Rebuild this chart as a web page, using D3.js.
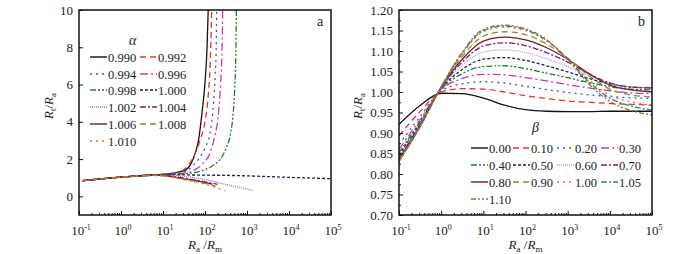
<!DOCTYPE html>
<html lang="en">
<head>
<meta charset="utf-8"/>
<script src="https://d3js.org/d3.v7.min.js"></script>
<style>
  body { margin: 0; background: #fff; }
  text { font-family: "Liberation Serif", "Times New Roman", serif; fill: #222; }
</style>
</head>
<body>
<div id="chart"></div>
<script>
// ---- data: panel a, R_t/R_a vs R_a/R_m for several alpha ----
var alphaLabels = ["0.990", "0.992", "0.994", "0.996", "0.998", "1.000", "1.002", "1.004", "1.006", "1.008", "1.010"];
var a0990 = [[0.12,0.84],[1,1.03],[7,1.16],[20,1.27],[35,1.42],[45,1.7],[58,2.3],[70,3.0],[85,4.5],[100,6.1],[112,8],[120,10.2]];
var a0992 = [[0.12,0.84],[1,1.03],[7,1.16],[20,1.25],[32,1.45],[50,2.0],[76,3.0],[100,4.0],[120,5.5],[135,7.5],[145,10.2]];
var a0994 = [[0.12,0.84],[1,1.03],[7,1.16],[25,1.25],[44,1.5],[70,2.0],[100,2.6],[132,3.4],[160,5],[175,6.5],[185,8],[190,10.2]];
var a0996 = [[0.12,0.84],[1,1.03],[7,1.16],[30,1.25],[60,1.45],[90,1.77],[130,2.3],[170,3.2],[210,4.5],[235,6],[255,8],[265,10.2]];
var a0998 = [[0.12,0.84],[1,1.03],[7,1.15],[25,1.2],[45,1.25],[90,1.4],[155,1.66],[250,2.1],[320,2.6],[400,3.3],[470,4.5],[515,6],[545,8],[560,10.2]];
var a1000 = [[0.12,0.84],[1,1.03],[7,1.15],[30,1.15],[100,1.14],[1000,1.1],[10000,1.02],[100000,0.95]];
var a1002 = [[0.12,0.84],[1,1.03],[7,1.15],[30,1.08],[100,0.9],[300,0.65],[1400,0.32]];
var a1004 = [[0.12,0.84],[1,1.03],[7,1.15],[20,1.05],[50,0.9],[100,0.78],[200,0.65]];
var a1006 = [[0.12,0.84],[1,1.03],[7,1.14],[20,1.02],[50,0.87],[100,0.74],[150,0.66]];
var a1008 = [[0.12,0.84],[1,1.03],[7,1.13],[20,1.0],[50,0.84],[100,0.7],[180,0.55]];
var a1010 = [[0.12,0.84],[1,1.03],[7,1.12],[20,0.98],[50,0.8],[100,0.65],[300,0.3]];
var alphaSeries = [a0990, a0992, a0994, a0996, a0998, a1000, a1002, a1004, a1006, a1008, a1010];

// ---- data: panel b, R_t/R_a vs R_a/R_m for several beta ----
var betaLabels = ["0.00", "0.10", "0.20", "0.30", "0.40", "0.50", "0.60", "0.70", "0.80", "0.90", "1.00", "1.05", "1.10"];
var betaX = [0.1, 0.316, 1, 3.16, 10, 31.6, 100, 316, 1000, 3162, 10000, 31623, 100000];
var b000 = [0.921, 0.967, 0.997, 0.996, 0.985, 0.968, 0.957, 0.953, 0.952, 0.952, 0.953, 0.953, 0.953];
var b010 = [0.893, 0.952, 1.000, 1.008, 1.007, 1.000, 0.991, 0.984, 0.978, 0.975, 0.972, 0.970, 0.968];
var b020 = [0.872, 0.940, 1.003, 1.020, 1.025, 1.022, 1.014, 1.006, 0.999, 0.993, 0.989, 0.986, 0.984];
var b030 = [0.860, 0.933, 1.005, 1.033, 1.043, 1.042, 1.035, 1.027, 1.018, 1.010, 1.003, 0.998, 0.996];
var b040 = [0.852, 0.928, 1.007, 1.045, 1.062, 1.064, 1.057, 1.046, 1.035, 1.023, 1.013, 1.007, 1.005];
var b050 = [0.846, 0.924, 1.008, 1.055, 1.080, 1.084, 1.077, 1.064, 1.049, 1.033, 1.020, 1.012, 1.010];
var b060 = [0.842, 0.922, 1.009, 1.065, 1.097, 1.103, 1.096, 1.081, 1.062, 1.040, 1.022, 1.013, 1.011];
var b070 = [0.839, 0.920, 1.010, 1.073, 1.112, 1.120, 1.113, 1.096, 1.073, 1.045, 1.022, 1.012, 1.010];
var b080 = [0.836, 0.918, 1.011, 1.080, 1.124, 1.134, 1.127, 1.108, 1.080, 1.045, 1.017, 1.005, 1.000];
var b090 = [0.834, 0.917, 1.012, 1.087, 1.136, 1.147, 1.140, 1.117, 1.083, 1.040, 1.007, 0.993, 0.988];
var b100 = [0.832, 0.916, 1.012, 1.093, 1.147, 1.158, 1.150, 1.124, 1.082, 1.030, 0.992, 0.976, 0.968];
var b105 = [0.831, 0.915, 1.012, 1.095, 1.150, 1.161, 1.152, 1.126, 1.081, 1.025, 0.985, 0.966, 0.956];
var b110 = [0.830, 0.915, 1.013, 1.097, 1.153, 1.163, 1.154, 1.128, 1.079, 1.020, 0.977, 0.955, 0.944];
var betaSeries = [b000, b010, b020, b030, b040, b050, b060, b070, b080, b090, b100, b105, b110];

var xTicks = [0.1, 1, 10, 100, 1000, 10000, 100000];
var xExp = ["-1", "0", "1", "2", "3", "4", "5"];
var yTicksA = [0, 2, 4, 6, 8, 10];
var yTicksB = [0.70, 0.75, 0.80, 0.85, 0.90, 0.95, 1.00, 1.05, 1.10, 1.15, 1.20];

// styles
var alphaStyle = [
  {c: "#111", d: null},
  {c: "#f0302c", d: "6,4"},
  {c: "#3a55d0", d: "2,4"},
  {c: "#c03cb8", d: "8,3,2,3"},
  {c: "#1f7f2a", d: "6,2,2,2,2,2"},
  {c: "#1c1c50", d: "3,2"},
  {c: "#9470e0", d: "1,1"},
  {c: "#7c1c78", d: "6,2,2,2"},
  {c: "#6e2020", d: null},
  {c: "#8a8a2a", d: "6,4"},
  {c: "#f26a30", d: "2,4"}
];
var betaStyle = [
  {c: "#111", d: null},
  {c: "#f0302c", d: "6,4"},
  {c: "#3a55d0", d: "2,4"},
  {c: "#c03cb8", d: "8,3,2,3"},
  {c: "#1f7f2a", d: "6,2,2,2,2,2"},
  {c: "#1c1c50", d: "3,2"},
  {c: "#b39ae8", d: "1,1"},
  {c: "#7c1c78", d: "6,2,2,2"},
  {c: "#6e2020", d: null},
  {c: "#8a8a2a", d: "6,4"},
  {c: "#f26a30", d: "2,4"},
  {c: "#1f8a8a", d: "6,2,2,2"},
  {c: "#a86a30", d: "5,2,2,2,2,2"}
];

var svg = d3.select("#chart").append("svg")
    .attr("width", 700).attr("height", 254);

function drawPanel(p) {
  var x = d3.scaleLog().domain([0.1, 100000]).range([p.left, p.right]);
  var y = d3.scaleLinear().domain(p.yDomain).range([215, 10]);
  var g = svg.append("g");

  g.append("clipPath").attr("id", p.id + "clip")
    .append("rect").attr("x", p.left).attr("y", 10)
    .attr("width", p.right - p.left).attr("height", 205);

  // curves
  var line = d3.line().x(function(d) { return x(d[0]); }).y(function(d) { return y(d[1]); })
      .curve(d3.curveMonotoneX);
  g.append("g").attr("clip-path", "url(#" + p.id + "clip)")
    .selectAll("path").data(p.series).enter().append("path")
      .attr("d", line)
      .attr("fill", "none")
      .attr("stroke", function(d, i) { return p.styles[i].c; })
      .attr("stroke-width", 1.3)
      .attr("stroke-dasharray", function(d, i) { return p.styles[i].d; });

  // bottom axis, ticks inside
  var minors = [];
  for (var e = -1; e < 5; e++) for (var m = 2; m < 10; m++) minors.push(m * Math.pow(10, e));
  g.append("g").attr("transform", "translate(0,215)")
    .call(d3.axisBottom(x).tickValues(minors).tickSize(-2).tickFormat(""))
    .call(function(s) { s.select(".domain").remove(); s.selectAll("line").attr("stroke", "#111"); });
  g.append("g").attr("transform", "translate(0,215)")
    .call(d3.axisBottom(x).tickValues(xTicks).tickSize(-4).tickFormat(""))
    .call(function(s) { s.select(".domain").remove(); s.selectAll("line").attr("stroke", "#111"); });

  var xl = g.selectAll(".xl").data(xTicks).enter().append("text")
    .attr("x", function(d) { return x(d) + 2; }).attr("y", 235)
    .attr("text-anchor", "middle").style("font-size", "13px");
  xl.append("tspan").text("10");
  xl.append("tspan").attr("dy", -5).style("font-size", "8px").text(function(d, i) { return xExp[i]; });

  // left axis, ticks inside
  if (p.yMinor) {
    g.append("g").attr("transform", "translate(" + p.left + ",0)")
      .call(d3.axisLeft(y).tickValues(p.yMinor).tickSize(-2).tickFormat(""))
      .call(function(s) { s.select(".domain").remove(); s.selectAll("line").attr("stroke", "#111"); });
  }
  g.append("g").attr("transform", "translate(" + p.left + ",0)")
    .call(d3.axisLeft(y).tickValues(p.yTicks).tickSize(-4).tickPadding(6).tickFormat(p.yFormat))
    .call(function(s) {
      s.select(".domain").remove();
      s.selectAll("line").attr("stroke", "#111");
      s.selectAll("text").attr("fill", "#222").style("font-size", "13px")
        .style("font-family", "'Liberation Serif', serif");
    });

  // frame
  g.append("rect").attr("x", p.left).attr("y", 10)
    .attr("width", p.right - p.left).attr("height", 205)
    .attr("fill", "none").attr("stroke", "#111").attr("stroke-width", 1.5);

  // axis titles
  var xt = g.append("text").attr("x", (p.left + p.right) / 2).attr("y", 249)
    .attr("text-anchor", "middle").style("font-size", "13px");
  xt.append("tspan").style("font-style", "italic").text("R");
  xt.append("tspan").attr("dy", 3).style("font-size", "9px").text("a");
  xt.append("tspan").attr("dy", -3).text(" /");
  xt.append("tspan").style("font-style", "italic").text("R");
  xt.append("tspan").attr("dy", 3).style("font-size", "9px").text("m");

  var yt = g.append("text")
    .attr("transform", "translate(" + p.yTitleX + ",106) rotate(-90)")
    .attr("text-anchor", "middle").style("font-size", "13px");
  yt.append("tspan").style("font-style", "italic").text("R");
  yt.append("tspan").attr("dy", 3).style("font-size", "9px").text("t");
  yt.append("tspan").attr("dy", -3).text("/");
  yt.append("tspan").style("font-style", "italic").text("R");
  yt.append("tspan").attr("dy", 3).style("font-size", "9px").text("a");

  g.append("text").attr("x", p.right - 14).attr("y", 26)
    .style("font-size", "14px").text(p.tag);

  // legend
  g.append("text").attr("x", p.legTitle[0]).attr("y", p.legTitle[1])
    .style("font-size", "14px").style("font-style", "italic").text(p.legName);
  var items = g.selectAll(".leg").data(p.labels).enter().append("g")
    .attr("transform", function(d, i) {
      return "translate(" + p.legCols[i % p.legCols.length] + "," + p.legRows[Math.floor(i / p.legCols.length)] + ")";
    });
  items.append("line").attr("x1", 0).attr("x2", 17).attr("y1", 0).attr("y2", 0)
    .attr("stroke", function(d, i) { return p.styles[i].c; })
    .attr("stroke-width", 1.4)
    .attr("stroke-dasharray", function(d, i) { return p.styles[i].d; });
  items.append("text").attr("x", 18).attr("y", 4.5)
    .style("font-size", "12.5px").text(function(d) { return d; });
}

var alphaData = alphaSeries;
var betaData = betaSeries.map(function(ys) { return ys.map(function(v, i) { return [betaX[i], v]; }); });

var yMinorB = d3.range(0, 10).map(function(i) { return 0.725 + i * 0.05; });

drawPanel({
  id: "a", left: 79, right: 331, yDomain: [-1, 10], series: alphaData, styles: alphaStyle,
  yTicks: yTicksA, yMinor: null, yFormat: d3.format("d"), tag: "a", yTitleX: 53,
  labels: alphaLabels, legName: "α", legTitle: [129, 45],
  legCols: [90, 140], legRows: [57, 74, 90, 107, 124, 141]
});
drawPanel({
  id: "b", left: 399, right: 652, yDomain: [0.70, 1.20], series: betaData, styles: betaStyle,
  yTicks: yTicksB, yMinor: yMinorB, yFormat: d3.format(".2f"), tag: "b", yTitleX: 362,
  labels: betaLabels, legName: "β", legTitle: [532, 132],
  legCols: [471, 513, 557, 601], legRows: [148, 165, 182, 199]
});
</script>
</body>
</html>
